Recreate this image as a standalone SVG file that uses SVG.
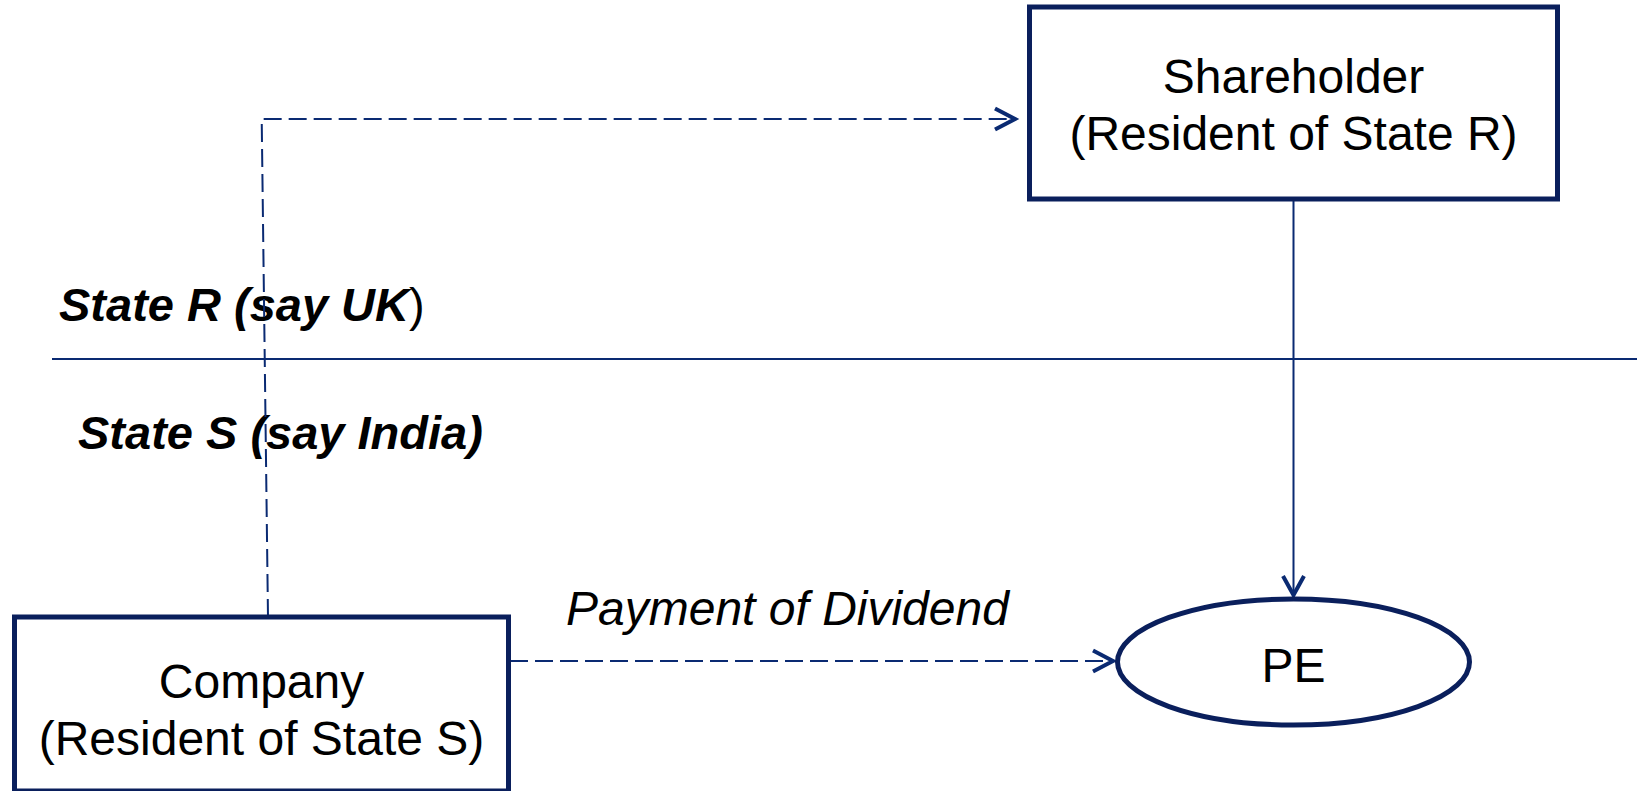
<svg xmlns="http://www.w3.org/2000/svg" width="1637" height="791" viewBox="0 0 1637 791">
  <style>
    .box { fill: #ffffff; stroke: #0a1f5c; stroke-width: 5; }
    .lbl { font-family: "Liberation Sans", Arial, sans-serif; font-size: 48px; fill: #000000; text-anchor: middle; }
    .state { font-family: "Liberation Sans", Arial, sans-serif; font-size: 47px; font-weight: bold; font-style: italic; fill: #000000; }
    .conn { fill: none; stroke: #0a2a72; stroke-width: 2; }
    .dash { stroke-dasharray: 18 7; }
    .head { fill: none; stroke: #0a2a72; stroke-width: 4; stroke-linejoin: miter; }
  </style>
  <rect width="1637" height="791" fill="#ffffff"/>

  <g id="boundary">
    <line x1="52" y1="359" x2="1637" y2="359" stroke="#0a2a72" stroke-width="2"/>
    <text class="state" x="59" y="321">State R (say UK<tspan font-weight="normal" font-style="normal">)</tspan></text>
    <text class="state" x="78" y="449">State S (say India)</text>
  </g>

  <g id="connectors">
    <path class="conn dash" d="M268,617 L261.7,119 L1014,119"/>
    <path class="head" d="M995,108.5 L1015,119 L995,129.5"/>
    <path class="conn" d="M1293.5,200 L1293.5,593"/>
    <path class="head" d="M1283,576 L1293.5,595 L1304,576"/>
    <path class="conn dash" d="M510,661 L1112,661"/>
    <path class="head" d="M1093,650.5 L1113,661 L1093,671.5"/>
    <text x="566" y="625" font-family="Liberation Sans, Arial, sans-serif" font-size="48" font-style="italic" fill="#000000">Payment of Dividend</text>
  </g>

  <g id="shareholder">
    <rect class="box" x="1029.5" y="7" width="528" height="192"/>
    <text class="lbl" x="1293.5" y="93">Shareholder</text>
    <text class="lbl" x="1293.5" y="150">(Resident of State R)</text>
  </g>

  <g id="company">
    <rect class="box" x="14.5" y="617" width="494" height="174"/>
    <text class="lbl" x="261.5" y="698">Company</text>
    <text class="lbl" x="261.5" y="755">(Resident of State S)</text>
  </g>

  <g id="pe">
    <ellipse class="box" cx="1293.5" cy="662" rx="176" ry="63"/>
    <text class="lbl" x="1293.5" y="682">PE</text>
  </g>
</svg>
